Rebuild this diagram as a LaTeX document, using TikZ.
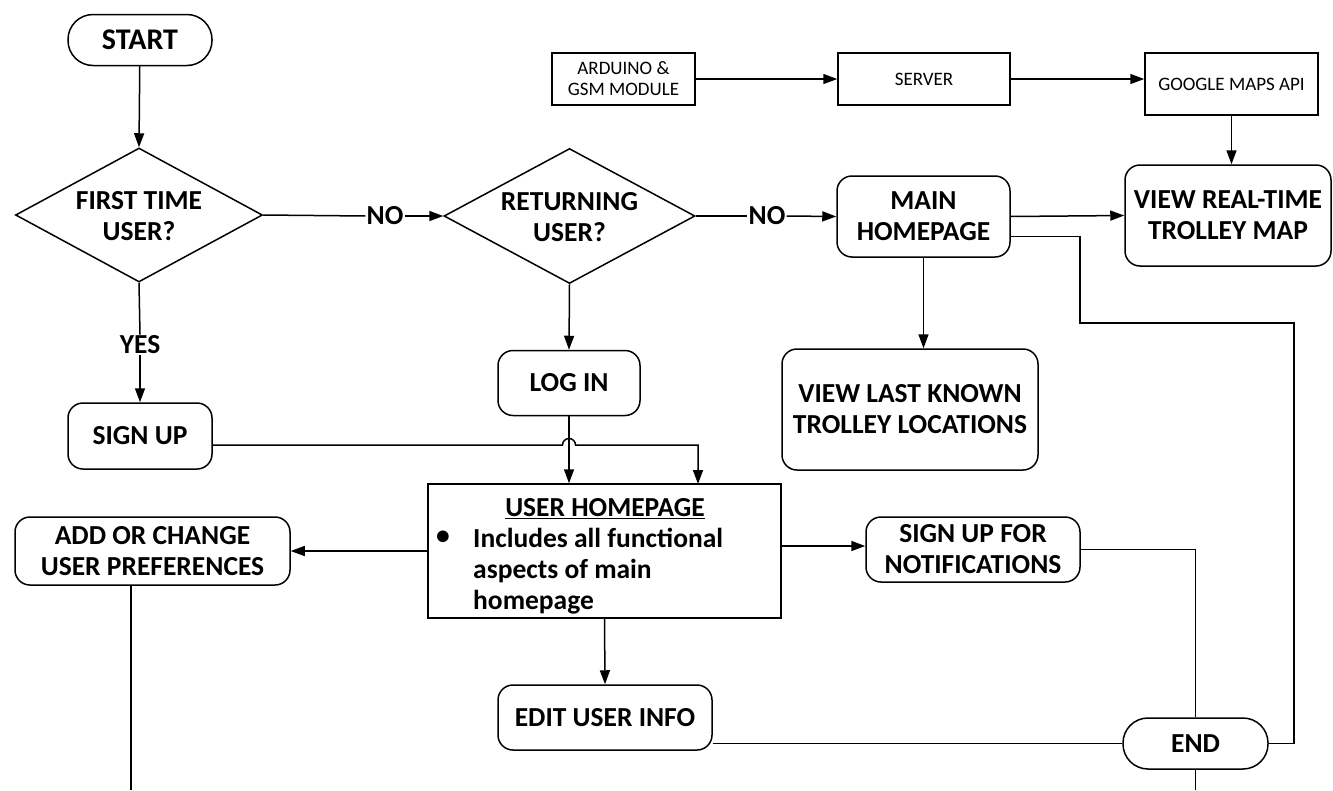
\documentclass[tikz,border=0pt]{standalone}
\usepackage{fontspec}
\setmainfont{Carlito}
\usetikzlibrary{shapes.geometric,arrows.meta,calc}
\tikzset{
  lw/.style={line width=1.5pt},
  arr/.style={lw,-{Triangle[length=14pt,width=10pt]}},
  big/.style={font=\fontsize{27.5}{31}\selectfont\bfseries, align=center},
  small/.style={font=\fontsize{19}{21}\selectfont, align=center},
  rbox/.style={draw,lw,rounded corners=15pt,inner sep=0pt,big},
  sbox/.style={draw,lw,inner sep=0pt,small},
  term/.style={draw,lw,rounded corners=25pt,inner sep=0pt,big,minimum height=51pt},
  dia/.style={draw,lw,diamond,inner sep=0pt},
  lbl/.style={big,inner sep=1pt,fill=white}
}
\begin{document}
\begin{tikzpicture}[x=1pt,y=-1pt]
\useasboundingbox (0,0) rectangle (1333,790);
% nodes
\node[term,minimum width=144pt,font=\fontsize{30}{31}\selectfont\bfseries] (start) at (140,40) {START};
\node[dia,minimum width=247pt,minimum height=134pt] (d1) at (139,215) {};
\node[big] (d1t) at (139,216.5) {FIRST TIME\\USER?};
\node[dia,minimum width=251pt,minimum height=135pt] (d2) at (569.5,216) {};
\node[big] (d2t) at (569.5,217.5) {RETURNING\\USER?};
\node[lbl] (yes) at (140,345) {YES};
\node[lbl] (no1) at (385,216) {NO};
\node[lbl] (no2) at (767,216) {NO};
\node[rbox,minimum width=144pt,minimum height=66pt] (su) at (140,436) {SIGN UP};
\node[rbox,minimum width=142pt,minimum height=65pt] (login) at (569,383) {LOG IN};
\node[rbox,minimum width=173pt,minimum height=81pt] (main) at (923.5,216.5) {MAIN\\HOMEPAGE};
\node[rbox,minimum width=256pt,minimum height=121pt] (vlast) at (910,409.5) {VIEW LAST KNOWN\\TROLLEY LOCATIONS};
\node[rbox,minimum width=206pt,minimum height=101pt] (vrt) at (1228,215.5) {VIEW REAL-TIME\\TROLLEY MAP};
\node[sbox,minimum width=143pt,minimum height=52pt] (ard) at (623.5,79) {ARDUINO \&\\GSM MODULE};
\node[sbox,minimum width=172pt,minimum height=52pt] (srv) at (924,79) {SERVER};
\node[sbox,minimum width=173pt,minimum height=62pt] (gm) at (1231.5,84) {GOOGLE MAPS API};
\node[draw,lw,inner sep=0pt,minimum width=353pt,minimum height=134pt] (uh) at (604.5,551) {};
\node[big] (uht) at (605,509) {\underline{USER HOMEPAGE}};
\node[big] (uhb) at (443,538) {\textbullet};
\node[big,anchor=north west,align=left,inner sep=0pt] (uhx) at (473,528) {Includes all functional\\aspects of main\\homepage};
\node[rbox,minimum width=275pt,minimum height=68pt] (pref) at (152.5,551) {ADD OR CHANGE\\USER PREFERENCES};
\node[rbox,minimum width=214pt,minimum height=65pt] (notif) at (973,549.5) {SIGN UP FOR\\NOTIFICATIONS};
\node[rbox,minimum width=214pt,minimum height=65pt] (edit) at (605,717.5) {EDIT USER INFO};
\node[term,minimum width=145pt] (endn) at (1195.5,743.5) {END};
% helper coordinates
\coordinate (hopL) at (562.5,445);
\coordinate (mainR) at ($(main.east)+(0,20)$);
\coordinate (c1) at (1080,236.5);
\coordinate (c2) at (1080,323);
\coordinate (c3) at (1294,323);
\coordinate (c4) at (1294,743.5);
\coordinate (uhR) at ($(uh.east)+(0,-5)$);
\coordinate (prefB) at ($(pref.south)+(-21.5,0)$);
\coordinate (prefEnd) at (131,790);
\coordinate (endEnd) at (1195.5,790);
% connectors
\draw[arr] (start) -- (d1.north);
\draw[lw] (d1.south) -- (yes.north);
\draw[arr] (yes.south) -- (su.north);
\draw[lw] (d1.east) -- (no1.west);
\draw[arr] (no1.east) -- (d2.west);
\draw[lw] (d2.east) -- (no2.west);
\draw[arr] (no2.east) -- (main.west);
\draw[arr] (d2.south) -- (login.north);
\draw[arr] (login.south) -- (login.south |- uh.north);
\draw[arr] (su.east |- hopL) -- (hopL) arc[start angle=180,end angle=0,radius=6.5pt] -- (698,445) -- (698,484);
\draw[arr] (main.east) -- (vrt.west);
\draw[arr] (main.south) -- (main.south |- vlast.north);
\draw[arr] (ard.east) -- (srv.west);
\draw[arr] (srv.east) -- (srv.east -| gm.west);
\draw[arr] (gm.south) -- (gm.south |- vrt.north);
\draw[arr] (uh.west) -- (pref.east);
\draw[arr] (uhR) -- (uhR -| notif.west);
\draw[arr] (uh.south) -- (edit.north);
\draw[lw] (endn.west -| edit.east) -- (endn.west);
\draw[lw] (notif.east) -- (notif.east -| endn.north) -- (endn.north);
\draw[lw] (mainR) -- (c1) -- (c2) -- (c3) -- (c4) -- (endn.east);
\draw[lw] (endn.south) -- (endEnd);
\draw[lw] (prefB) -- (prefEnd);
\end{tikzpicture}
\end{document}
